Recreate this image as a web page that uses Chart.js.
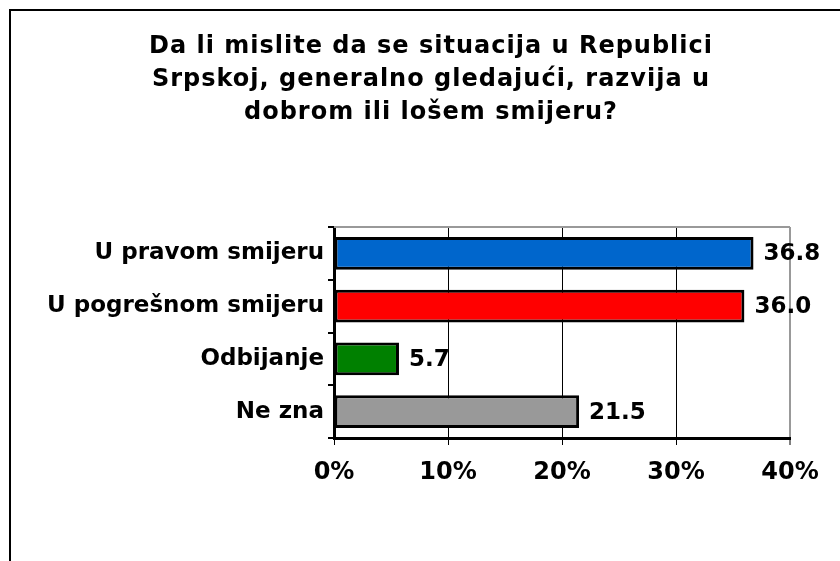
<!DOCTYPE html>
<html>
<head>
<meta charset="utf-8">
<script src="https://cdn.jsdelivr.net/npm/chart.js@4"></script>
<style>
  html, body { margin: 0; padding: 0; background: #fff; }
  #wrap { position: relative; width: 840px; height: 561px; overflow: hidden; }
  #frame { position: absolute; left: 9px; top: 9px; width: 900px; height: 600px; border: 2px solid #000; box-sizing: border-box; }
  canvas { position: absolute; left: 0; top: 0; }
</style>
</head>
<body>
<div id="wrap">
  <div id="frame"></div>
  <canvas id="chart" width="840" height="561"></canvas>
</div>
<script>
var categories = ['U pravom smijeru', 'U pogrešnom smijeru', 'Odbijanje', 'Ne zna'];
var values = [36.8, 36.0, 5.7, 21.5];
var barColors = ['#0066CC', '#FF0000', '#008000', '#999999'];
var titleLines = ['Da li mislite da se situacija u Republici', 'Srpskoj, generalno gledajući, razvija u', 'dobrom ili lošem smijeru?'];
var xTicks = [0, 10, 20, 30, 40];

var FONT = "'DejaVu Sans', Verdana, sans-serif";

// title drawn by hand so it can sit off-centre like the original
var titleText = {
  id: 'titleText',
  afterDraw: function(chart) {
    var ctx = chart.ctx;
    ctx.save();
    ctx.font = 'bold 24px ' + FONT;
    ctx.letterSpacing = '1px';
    ctx.fillStyle = '#000';
    ctx.textAlign = 'center';
    ctx.textBaseline = 'alphabetic';
    for (var i = 0; i < titleLines.length; i++) {
      ctx.fillText(titleLines[i], 431, 53 + i * 33);
    }
    ctx.restore();
  }
};

// value labels at the end of each bar + grey top border of the plot
var barLabels = {
  id: 'barLabels',
  afterDatasetsDraw: function(chart) {
    var ctx = chart.ctx;
    var meta = chart.getDatasetMeta(0);
    ctx.save();
    ctx.font = 'bold 23px ' + FONT;
    ctx.fillStyle = '#000';
    ctx.textBaseline = 'middle';
    ctx.textAlign = 'left';
    meta.data.forEach(function(bar, i) {
      ctx.fillText(values[i].toFixed(1), bar.x + 10, bar.y + 1);
    });
    ctx.restore();
  },
  beforeDatasetsDraw: function(chart) {
    var ctx = chart.ctx, a = chart.chartArea;
    ctx.save();
    ctx.strokeStyle = '#999';
    ctx.lineWidth = 2;
    ctx.beginPath();
    ctx.moveTo(a.left, a.top);
    ctx.lineTo(a.right, a.top);
    ctx.stroke();
    ctx.restore();
  }
};

new Chart(document.getElementById('chart'), {
  type: 'bar',
  data: {
    labels: categories,
    datasets: [{
      data: values,
      backgroundColor: barColors,
      borderColor: '#000',
      borderWidth: 3,
      borderSkipped: false,
      categoryPercentage: 1.0,
      barPercentage: 0.62
    }]
  },
  options: {
    indexAxis: 'y',
    responsive: false,
    animation: false,
    devicePixelRatio: 1,
    layout: { padding: { top: 227, right: 50, bottom: 73, left: 0 } },
    plugins: {
      legend: { display: false },
      tooltip: { enabled: false },
      title: { display: false }
    },
    scales: {
      x: {
        min: 0,
        max: 40,
        afterBuildTicks: function(scale) {
          scale.ticks = xTicks.map(function(v) { return { value: v }; });
        },
        afterFit: function(scale) { scale.height = 50; },
        grid: {
          color: function(c) { return c.tick && c.tick.value === 40 ? '#999' : '#000'; },
          lineWidth: function(c) { return c.tick && c.tick.value === 40 ? 2 : 1; },
          tickLength: 7,
          tickColor: '#000',
          tickWidth: 1
        },
        border: { color: '#000', width: 3 },
        ticks: {
          color: '#000',
          padding: 13,
          font: { family: FONT, size: 24, weight: 'bold' },
          callback: function(v) { return v + '%'; }
        }
      },
      y: {
        afterFit: function(scale) { scale.width = 334; },
        grid: {
          offset: true,
          drawOnChartArea: false,
          tickLength: 6,
          color: '#000',
          lineWidth: 2
        },
        border: { color: '#000', width: 3 },
        ticks: {
          color: '#000',
          padding: 4,
          font: { family: FONT, size: 23, weight: 'bold' }
        }
      }
    }
  },
  plugins: [barLabels, titleText]
});
</script>
</body>
</html>
